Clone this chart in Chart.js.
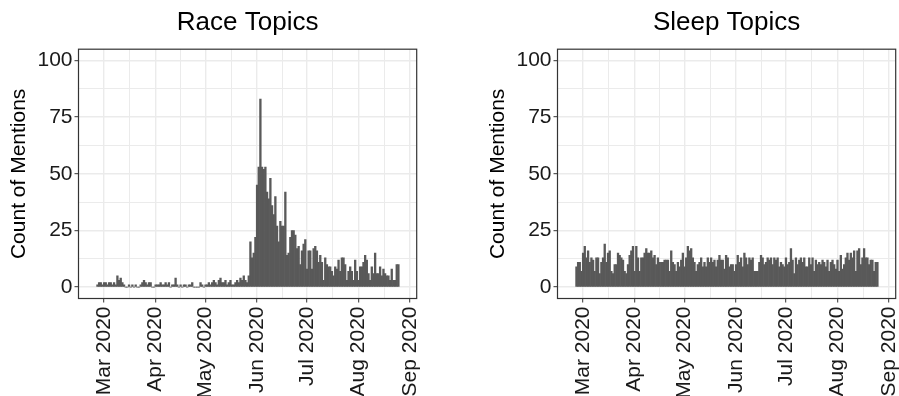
<!DOCTYPE html>
<html>
<head>
<meta charset="utf-8">
<script src="https://cdn.jsdelivr.net/npm/chart.js@4.4.0/dist/chart.umd.min.js"></script>
<style>
  html, body { margin: 0; padding: 0; background: #fff; overflow: hidden; }
  .panel { position: absolute; top: 0; width: 420px; height: 396px; }
  #race-panel { left: 0; }
  #sleep-panel { left: 479px; }
</style>
</head>
<body>
<div class="panel" id="race-panel"><canvas id="race-chart"></canvas></div>
<div class="panel" id="sleep-panel"><canvas id="sleep-chart"></canvas></div>
<script>
// daily mention counts, first value is 2020-02-26
const startDate = '2020-02-26'

const raceCounts = [
    1, 2, 2, 1, 2, 2, 1, 2, 2, 1,
    2, 1, 5, 3, 4, 2, 1, 0, 0, 1,
    0, 1, 0, 1, 0, 0, 1, 2, 3, 2,
    1, 2, 2, 0, 0, 1, 1, 1, 2, 1,
    1, 2, 1, 2, 0, 1, 1, 4, 1, 0,
    1, 0, 1, 1, 0, 1, 1, 2, 0, 0,
    0, 0, 2, 1, 0, 1, 1, 2, 1, 2,
    3, 2, 1, 3, 4, 2, 2, 3, 1, 2,
    3, 1, 1, 2, 3, 2, 4, 3, 5, 3,
    2, 5, 20, 13, 15, 22, 45, 53, 83, 53,
    52, 53, 42, 39, 48, 36, 32, 40, 27, 20,
    29, 27, 27, 42, 14, 15, 22, 25, 25, 23,
    17, 18, 10, 16, 19, 21, 8, 16, 16, 8,
    17, 18, 16, 11, 14, 11, 3, 13, 10, 9,
    9, 7, 5, 9, 8, 12, 7, 13, 13, 10,
    3, 7, 9, 7, 3, 12, 7, 3, 9, 9,
    11, 14, 12, 6, 3, 9, 6, 15, 6, 6,
    9, 5, 8, 6, 5, 5, 3, 8, 3, 3,
    10, 10
]

const sleepCounts = [
    9, 11, 11, 7, 15, 18, 13, 16, 11, 13,
    12, 7, 13, 13, 6, 11, 13, 19, 11, 15,
    16, 7, 6, 10, 10, 15, 14, 13, 12, 7,
    6, 10, 14, 16, 18, 7, 18, 13, 7, 13,
    13, 15, 17, 15, 15, 16, 13, 14, 10, 13,
    11, 11, 11, 12, 12, 12, 7, 16, 11, 10,
    7, 11, 9, 12, 15, 9, 13, 18, 16, 17,
    13, 11, 7, 10, 11, 13, 9, 11, 9, 13,
    11, 13, 11, 12, 9, 12, 14, 12, 12, 8,
    14, 13, 9, 10, 10, 7, 10, 14, 11, 13,
    9, 15, 13, 10, 13, 12, 13, 7, 7, 7,
    11, 14, 13, 10, 11, 13, 12, 13, 10, 13,
    12, 13, 9, 11, 10, 9, 13, 10, 11, 17,
    12, 6, 13, 10, 12, 13, 11, 13, 9, 9,
    13, 10, 13, 7, 12, 10, 11, 10, 12, 11,
    9, 12, 7, 11, 12, 10, 8, 12, 7, 14,
    8, 10, 13, 15, 12, 15, 13, 16, 7, 16,
    17, 10, 13, 17, 13, 13, 10, 12, 12, 7,
    11, 11
]

const monthStarts = ['2020-03-01', '2020-04-01', '2020-05-01', '2020-06-01', '2020-07-01', '2020-08-01', '2020-09-01']
const monthLabels = ['Mar 2020', 'Apr 2020', 'May 2020', 'Jun 2020', 'Jul 2020', 'Aug 2020', 'Sep 2020']
const countTicks = [0, 25, 50, 75, 100]

const fontFamily = "'Liberation Sans', Arial, Helvetica, sans-serif"
const barColor = '#595959'
const gridColor = '#EBEBEB'
const frameColor = '#333333'

function dayOffset(iso) {
    return Math.round((Date.parse(iso) - Date.parse(startDate)) / 86400000)
}

const majorX = monthStarts.map(dayOffset)
const minorX = majorX.slice(1).map((v, i) => (v + majorX[i]) / 2)
const minorY = countTicks.slice(1).map((v, i) => (v + countTicks[i]) / 2)

function isMinor(ctx, list) {
    return ctx.tick && list.includes(ctx.tick.value)
}

const panelBorder = {
    id: 'panelBorder',
    afterDraw(chart) {
        const { ctx, chartArea } = chart
        ctx.save()
        ctx.strokeStyle = frameColor
        ctx.lineWidth = 1.2
        ctx.strokeRect(chartArea.left, chartArea.top, chartArea.right - chartArea.left, chartArea.bottom - chartArea.top)
        ctx.restore()
    }
}

function makeChart(canvasId, title, counts) {
    return new Chart(document.getElementById(canvasId), {
        type: 'bar',
        data: {
            datasets: [{
                data: counts.map((v, i) => ({ x: i, y: v })),
                backgroundColor: barColor,
                borderWidth: 0,
                barPercentage: 1,
                categoryPercentage: 1
            }]
        },
        plugins: [panelBorder],
        options: {
            responsive: true,
            maintainAspectRatio: false,
            animation: false,
            layout: { padding: { left: 0, right: 3.3, top: 0, bottom: 0 } },
            plugins: {
                legend: { display: false },
                tooltip: { enabled: false },
                title: {
                    display: true,
                    text: title,
                    fullSize: false,
                    color: '#000',
                    font: { family: fontFamily, size: 26, weight: 'normal' },
                    padding: { top: 7, bottom: 11 }
                }
            },
            scales: {
                x: {
                    type: 'linear',
                    offset: false,
                    min: -11.4,
                    max: 192,
                    afterBuildTicks: function (scale) {
                        scale.ticks = majorX.concat(minorX).sort((a, b) => a - b).map(v => ({ value: v }))
                    },
                    afterFit: function (scale) {
                        scale.height = 97.5
                        scale.paddingLeft = 0
                        scale.paddingRight = 0
                    },
                    ticks: {
                        autoSkip: false,
                        minRotation: 90,
                        maxRotation: 90,
                        padding: 4,
                        color: '#1a1a1a',
                        font: { family: fontFamily, size: 21 },
                        callback: function (value) {
                            const i = majorX.indexOf(value)
                            return i >= 0 ? monthLabels[i] : ''
                        }
                    },
                    grid: {
                        offset: false,
                        color: gridColor,
                        lineWidth: ctx => isMinor(ctx, minorX) ? 1 : 1.4,
                        tickLength: 4,
                        tickWidth: 1,
                        tickColor: ctx => isMinor(ctx, minorX) ? 'rgba(0,0,0,0)' : frameColor
                    },
                    border: { display: false }
                },
                y: {
                    min: -5,
                    max: 105,
                    afterBuildTicks: function (scale) {
                        scale.ticks = countTicks.concat(minorY).sort((a, b) => a - b).map(v => ({ value: v }))
                    },
                    afterFit: function (scale) {
                        scale.width = 78.5
                        scale.paddingTop = 0
                        scale.paddingBottom = 0
                    },
                    ticks: {
                        padding: 2,
                        color: '#1a1a1a',
                        font: { family: fontFamily, size: 21 },
                        callback: value => countTicks.includes(value) ? value : ''
                    },
                    title: {
                        display: true,
                        text: 'Count of Mentions',
                        color: '#000',
                        font: { family: fontFamily, size: 21 },
                        padding: { top: 7, bottom: 0 }
                    },
                    grid: {
                        color: gridColor,
                        lineWidth: ctx => isMinor(ctx, minorY) ? 1 : 1.4,
                        tickLength: 4,
                        tickWidth: 1,
                        tickColor: ctx => isMinor(ctx, minorY) ? 'rgba(0,0,0,0)' : frameColor
                    },
                    border: { display: false }
                }
            }
        }
    })
}

makeChart('race-chart', 'Race Topics', raceCounts)
makeChart('sleep-chart', 'Sleep Topics', sleepCounts)
</script>
</body>
</html>
